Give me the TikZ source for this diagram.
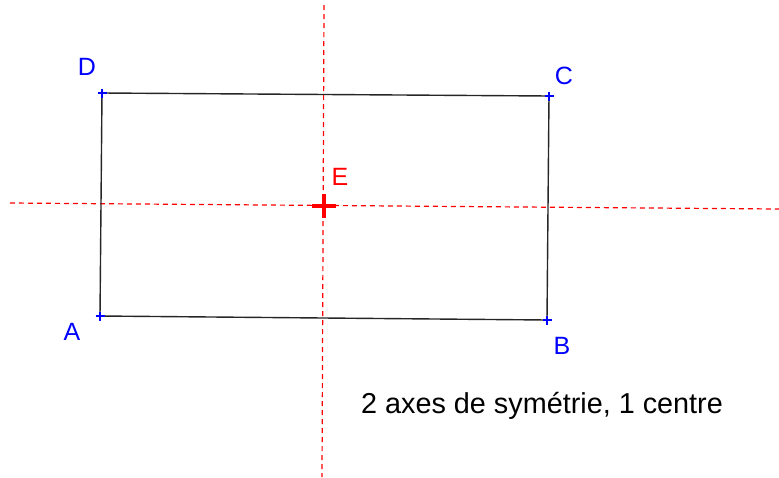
\documentclass[tikz,border=0pt]{standalone}
\usepackage{fontspec}
\setmainfont{Liberation Sans}
\usetikzlibrary{positioning, calc}
\definecolor{ptblue}{RGB}{0,0,255}
\definecolor{axred}{RGB}{255,0,0}

\begin{document}
\begin{tikzpicture}[
  x=1pt, y=-1pt,
  side/.style={draw=black!85, line width=1.4pt},
  axis/.style={draw=axred, line width=1.2pt, dash pattern=on 5pt off 4pt},
  ptlabel/.style={text=ptblue, font=\fontsize{25}{27}\selectfont, inner sep=0pt},
  tick/.style={draw=ptblue, line width=1.6pt},
]
\useasboundingbox (0,0) rectangle (779,477);

\coordinate (A) at (100,316);
\coordinate (B) at (547,320);
\coordinate (C) at (549,96);
\coordinate (D) at (102,93);
\coordinate (E) at (324,206);

% axes of symmetry
\coordinate (vtop) at (324,5);
\coordinate (vbot) at (322,477);
\coordinate (hleft) at (10,203);
\coordinate (hright) at (779,209);
\draw[axis] (vtop) -- (vbot);
\draw[axis] (hleft) -- (hright);

% rectangle
\draw[side] (A) -- (B) -- (C) -- (D) -- cycle;

% vertex marks
\foreach \p in {A,B,C,D}{
  \draw[tick] ($(\p)+(-4.5,0)$) -- ($(\p)+(4.5,0)$);
  \draw[tick] ($(\p)+(0,-4.5)$) -- ($(\p)+(0,4.5)$);
}

% centre
\draw[axred, line width=4pt] ($(E)+(-12,0)$) -- ($(E)+(12,0)$);
\draw[axred, line width=4pt] ($(E)+(0,-12)$) -- ($(E)+(0,12)$);

% labels
\node[ptlabel] (lA) at (72,332) {A};
\node[ptlabel] (lB) at (562,346) {B};
\node[ptlabel] (lC) at (564,76) {C};
\node[ptlabel] (lD) at (87,67) {D};
\node[ptlabel, text=axred] (lE) at (340,177) {E};

\node[font=\fontsize{28.8}{30}\selectfont, inner sep=0pt] (note) at (542,406) {2 axes de symétrie, 1 centre};
\end{tikzpicture}
\end{document}
